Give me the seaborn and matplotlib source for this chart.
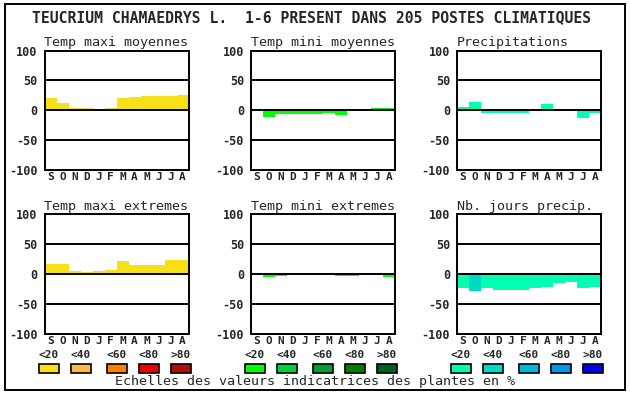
import matplotlib
matplotlib.use("Agg")
import matplotlib.pyplot as plt
import seaborn as sns
import pandas as pd
from matplotlib.patches import Rectangle

sns.set_style("white")
plt.rcParams['font.family'] = ['DejaVu Sans Mono', 'DejaVu Sans']

# ---------------- data ----------------
months = ["S", "O", "N", "D", "J", "F", "M", "A", "M", "J", "J", "A"]
yticks = [-100, -50, 0, 50, 100]

tmax_moy = [20, 12, 4, 4, 2, 4, 20, 22, 24, 24, 24, 25]
tmin_moy = [-2, -12, -7, -7, -7, -7, -5, -8, 2, 2, 4, 4]
precip = [5, 13, -4, -4, -4, -4, 2, 10, 2, 0, -13, -5]
tmax_ext = [17, 17, 5, 3, 5, 7, 22, 15, 15, 15, 23, 23]
tmin_ext = [0, -5, -4, 0, 0, -2, 2, -4, -4, 0, -2, -5]
nb_jours = [-23, -28, -24, -26, -26, -26, -24, -21, -15, -13, -24, -21]

# colour class (0: <20, 1: <40, ...) of each bar
lvl_tmax_moy = [0] * 12
lvl_tmin_moy = [0] * 12
lvl_precip = [0] * 12
lvl_tmax_ext = [0] * 12
lvl_tmin_ext = [0] * 12
lvl_nb_jours = [0, 1, 0, 0, 0, 0, 0, 0, 0, 0, 0, 0]

titles = ["Temp maxi moyennes", "Temp mini moyennes", "Precipitations",
          "Temp maxi extremes", "Temp mini extremes", "Nb. jours precip."]
scale_labels = ["<20", "<40", "<60", "<80", ">80"]

warm = ["#f8e018", "#ffb84c", "#ff8000", "#f00000", "#b01000"]
green = ["#00ff00", "#00d040", "#00a030", "#008000", "#006020"]
cyan = ["#00ffb0", "#00d8c8", "#00b8d8", "#0098e8", "#0000ff"]

main_title = "TEUCRIUM CHAMAEDRYS L.  1-6 PRESENT DANS 205 POSTES CLIMATIQUES"
footer = "Echelles des valeurs indicatrices des plantes en %"

# ---------------- figure ----------------
W, H = 630, 394
fig = plt.figure(figsize=(W / 100, H / 100), dpi=100)
fig.patch.set_facecolor("white")


def rect(l, t, r, b):
    return [l / W, 1 - b / H, (r - l) / W, (b - t) / H]


panels = [
    (tmax_moy, lvl_tmax_moy, warm, (44.5, 50.5, 188.5, 170)),
    (tmin_moy, lvl_tmin_moy, green, (251, 50.5, 395, 170)),
    (precip, lvl_precip, cyan, (457, 50.5, 601, 170)),
    (tmax_ext, lvl_tmax_ext, warm, (44.5, 214, 188.5, 334)),
    (tmin_ext, lvl_tmin_ext, green, (251, 214, 395, 334)),
    (nb_jours, lvl_nb_jours, cyan, (457, 214, 601, 334)),
]

for (vals, lvls, pal, box), title in zip(panels, titles):
    ax = fig.add_axes(rect(*box))
    df = pd.DataFrame({"pos": list(range(len(months))), "val": vals,
                       "lvl": [str(v) for v in lvls]})
    sns.barplot(data=df, x="pos", y="val", hue="lvl",
                palette={str(i): c for i, c in enumerate(pal)},
                dodge=False, width=1.0, linewidth=0, legend=False, ax=ax,
                errorbar=None, saturation=1)
    ax.set_xlim(-0.5, 11.5)
    ax.set_ylim(-100, 100)
    ax.set_yticks(yticks)
    ax.set_yticklabels([str(v) for v in yticks], fontweight="bold", fontsize=8.5)
    ax.set_xticks(range(len(months)))
    ax.set_xticklabels(months, fontweight="bold", fontsize=8)
    ax.tick_params(length=0, pad=1.5, axis="x")
    ax.tick_params(length=0, pad=5, axis="y")
    ax.set_xlabel("")
    ax.set_ylabel("")
    for y in (-50, 0, 50):
        ax.axhline(y, color="black", lw=1.4, zorder=3)
    for s in ax.spines.values():
        s.set_color("black")
        s.set_linewidth(1.4)
        s.set_visible(True)
    ax.set_title(title, fontsize=9.6, loc="left", pad=3, x=0.0)

# main title
fig.text(32 / W, 1 - 18 / H, main_title, fontsize=10.6, va="center",
         ha="left", fontweight="bold")

# legend scales
offsets = [0, 32, 68, 100, 132]
for (pal, x0) in zip([warm, green, cyan], [39, 245, 451]):
    for off, c, lab in zip(offsets, pal, scale_labels):
        x = x0 + off
        fig.patches.append(Rectangle((x / W, 1 - 373 / H), 20 / W, 9 / H,
                                     transform=fig.transFigure,
                                     facecolor=c, edgecolor="black", lw=1.2))
        fig.text((x + 10) / W, 1 - 355.5 / H, lab, fontsize=8,
                 fontweight="bold", ha="center", va="center")

fig.text(315 / W, 1 - 382 / H, footer, fontsize=9.6, ha="center", va="center")

# outer frame
fig.patches.append(Rectangle((5 / W, 1 - 390 / H), 620 / W, 386 / H,
                             transform=fig.transFigure, fill=False,
                             edgecolor="black", lw=1.4))

fig.savefig("out.png", dpi=100, facecolor="white")
